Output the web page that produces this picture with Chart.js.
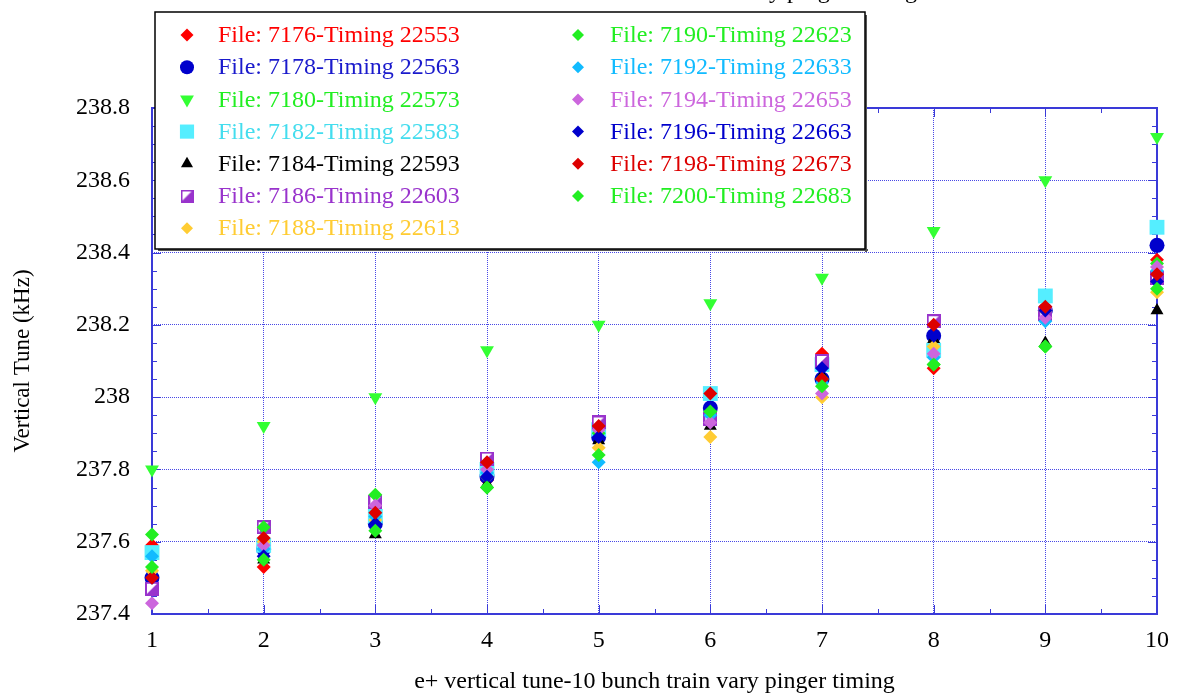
<!DOCTYPE html>
<html>
<head>
<meta charset="utf-8">
<script src="https://cdn.jsdelivr.net/npm/chart.js@4.4.0/dist/chart.umd.min.js"></script>
<style>
html, body { margin: 0; padding: 0; background: #fff; }
#wrap { width: 1181px; height: 696px; }
</style>
</head>
<body>
<div id="wrap"><canvas id="tune" width="1181" height="696"></canvas></div>
<script>
'use strict';

// pinger step index
var steps = [1, 2, 3, 4, 5, 6, 7, 8, 9, 10];

var seriesNames = [
    'File: 7176-Timing 22553', 'File: 7178-Timing 22563', 'File: 7180-Timing 22573',
    'File: 7182-Timing 22583', 'File: 7184-Timing 22593', 'File: 7186-Timing 22603',
    'File: 7188-Timing 22613', 'File: 7190-Timing 22623', 'File: 7192-Timing 22633',
    'File: 7194-Timing 22653', 'File: 7196-Timing 22663', 'File: 7198-Timing 22673',
    'File: 7200-Timing 22683'
];

// vertical tune (kHz), one list per file
var tune7176 = [237.59, 237.53, 237.69, 237.77, 237.92, 238.01, 238.12, 238.08, 238.25, 238.38];
var tune7178 = [237.50, 237.58, 237.65, 237.78, 237.89, 237.97, 238.05, 238.17, 238.24, 238.42];
var tune7180 = [237.80, 237.92, 238.00, 238.13, 238.20, 238.26, 238.33, 238.46, 238.60, 238.72];
var tune7182 = [237.57, 237.59, 237.67, 237.80, 237.91, 238.01, 238.09, 238.13, 238.28, 238.47];
var tune7184 = [237.48, 237.55, 237.62, 237.76, 237.88, 237.92, 238.06, 238.16, 238.15, 238.24];
var tune7186 = [237.47, 237.64, 237.71, 237.83, 237.93, 237.94, 238.10, 238.21, 238.23, 238.33];
var tune7188 = [237.52, 237.60, 237.66, 237.78, 237.86, 237.89, 238.00, 238.14, 238.24, 238.29];
var tune7190 = [237.62, 237.64, 237.73, 237.75, 237.90, 237.96, 238.05, 238.09, 238.14, 238.37];
var tune7192 = [237.56, 237.58, 237.67, 237.79, 237.82, 237.95, 238.04, 238.11, 238.21, 238.35];
var tune7194 = [237.43, 237.59, 237.70, 237.80, 237.91, 237.93, 238.01, 238.12, 238.22, 238.36];
var tune7196 = [237.50, 237.56, 237.65, 237.78, 237.89, 237.97, 238.08, 238.17, 238.24, 238.32];
var tune7198 = [237.50, 237.61, 237.68, 237.82, 237.92, 238.01, 238.05, 238.20, 238.25, 238.34];
var tune7200 = [237.53, 237.55, 237.63, 237.75, 237.84, 237.96, 238.03, 238.09, 238.14, 238.30];

var tuneSeries = [tune7176, tune7178, tune7180, tune7182, tune7184, tune7186, tune7188,
    tune7190, tune7192, tune7194, tune7196, tune7198, tune7200];

var seriesColors = ['#ff0000', '#0000cc', '#33ff33', '#55eeff', '#000000', '#9933cc', '#ffcc33',
    '#22ee22', '#11bbff', '#cc66dd', '#0000cc', '#dd0000', '#22ee22'];
var textColors = ['#ff0000', '#1a1acc', '#22ee22', '#44ddee', '#000000', '#9933cc', '#ffcc33',
    '#22ee22', '#11bbff', '#cc66dd', '#0000cc', '#dd0000', '#22ee22'];

// half filled square marker
function halfSquare(size) {
    var c = document.createElement('canvas');
    c.width = size; c.height = size;
    var g = c.getContext('2d');
    g.fillStyle = '#ffffff';
    g.fillRect(1, 1, size - 2, size - 2);
    g.fillStyle = '#9933cc';
    g.beginPath();
    g.moveTo(size - 1, 1); g.lineTo(size - 1, size - 1); g.lineTo(1, size - 1);
    g.closePath(); g.fill();
    g.strokeStyle = '#9933cc';
    g.lineWidth = 2;
    g.strokeRect(1, 1, size - 2, size - 2);
    return c;
}

var markers = [
    { style: 'rectRot', r: 7, rot: 0 },
    { style: 'circle', r: 7.5, rot: 0 },
    { style: 'triangle', r: 8, rot: 180 },
    { style: 'rect', r: 10.5, rot: 0 },
    { style: 'triangle', r: 7.5, rot: 0 },
    { style: halfSquare(14), r: 7, rot: 0 },
    { style: 'rectRot', r: 7, rot: 0 },
    { style: 'rectRot', r: 7, rot: 0 },
    { style: 'rectRot', r: 7, rot: 0 },
    { style: 'rectRot', r: 7, rot: 0 },
    { style: 'rectRot', r: 7, rot: 0 },
    { style: 'rectRot', r: 7, rot: 0 },
    { style: 'rectRot', r: 7, rot: 0 }
];
var legendMarkers = [
    { style: 'rectRot', r: 6.5 }, { style: 'circle', r: 7 }, { style: 'triangle', r: 8, rot: 180 },
    { style: 'rect', r: 10 }, { style: 'triangle', r: 7 }, { style: halfSquare(13), r: 6.5 },
    { style: 'rectRot', r: 6 }, { style: 'rectRot', r: 6 }, { style: 'rectRot', r: 6 },
    { style: 'rectRot', r: 6 }, { style: 'rectRot', r: 6 }, { style: 'rectRot', r: 6 },
    { style: 'rectRot', r: 6 }
];

var datasets = tuneSeries.map(function(vals, i) {
    return {
        label: seriesNames[i],
        data: vals.map(function(v, k) { return { x: steps[k], y: v }; }),
        backgroundColor: seriesColors[i],
        borderColor: seriesColors[i],
        borderWidth: 0,
        pointStyle: markers[i].style,
        pointRadius: markers[i].r,
        pointRotation: markers[i].rot,
        showLine: false,
        clip: false,
        order: tuneSeries.length - i
    };
});

var BLUE = '#3a3ad8';
var GRID = '#4848e6';
var SERIF = '"Liberation Serif", "Times New Roman", serif';

var framePlugin = {
    id: 'frame',
    beforeDatasetsDraw: function(chart) {
        var ctx = chart.ctx, a = chart.chartArea;
        var xs = chart.scales.x, ys = chart.scales.y;
        ctx.save();
        ctx.strokeStyle = BLUE;
        ctx.lineWidth = 1;
        ctx.beginPath();
        for (var k = 0; k <= 18; k++) {
            var px = Math.round(xs.getPixelForValue(1 + k * 0.5)) + 0.5;
            var lx = k % 2 === 0 ? 9 : 5;
            ctx.moveTo(px, a.bottom); ctx.lineTo(px, a.bottom - lx);
            ctx.moveTo(px, a.top); ctx.lineTo(px, a.top + lx);
        }
        for (var j = 0; j <= 28; j++) {
            var py = Math.round(ys.getPixelForValue(237.4 + j * 0.05)) + 0.5;
            var ly = j % 4 === 0 ? 9 : 5;
            ctx.moveTo(a.left, py); ctx.lineTo(a.left + ly, py);
            ctx.moveTo(a.right, py); ctx.lineTo(a.right - ly, py);
        }
        ctx.stroke();
        ctx.lineWidth = 2;
        ctx.strokeRect(a.left, a.top, a.right - a.left, a.bottom - a.top);
        ctx.restore();
    },
    afterDraw: function(chart) {
        var ctx = chart.ctx;
        ctx.save();
        // clipped title at the very top
        ctx.font = '24px ' + SERIF;
        ctx.fillStyle = '#000';
        ctx.textAlign = 'right';
        ctx.textBaseline = 'alphabetic';
        ctx.fillText('e+ vertical tune-10 bunch train vary pinger timing', 917, -2);

        // legend box
        var bx = 155, by = 12, bw = 710, bh = 237;
        ctx.fillStyle = '#ffffff';
        ctx.fillRect(bx, by, bw, bh);
        ctx.fillStyle = '#555';
        ctx.fillRect(bx + 3, by + bh, bw, 2);
        ctx.fillRect(bx + bw, by + 3, 2, bh);
        ctx.strokeStyle = '#000';
        ctx.lineWidth = 1.5;
        ctx.strokeRect(bx, by, bw, bh);

        ctx.font = '24px ' + SERIF;
        ctx.textAlign = 'left';
        ctx.textBaseline = 'middle';
        for (var i = 0; i < seriesNames.length; i++) {
            var col = i < 7 ? 0 : 1;
            var row = i < 7 ? i : i - 7;
            var mx = col === 0 ? 187 : 578;
            var tx = col === 0 ? 218 : 610;
            var cy = 35 + row * 32.2;
            var m = legendMarkers[i];
            ctx.fillStyle = seriesColors[i];
            ctx.strokeStyle = seriesColors[i];
            Chart.helpers.drawPoint(ctx, {
                pointStyle: m.style, radius: m.r, rotation: m.rot || 0, borderWidth: 0
            }, mx, cy);
            ctx.fillStyle = textColors[i];
            ctx.fillText(seriesNames[i], tx, cy + 1);
        }
        ctx.restore();
    }
};

new Chart(document.getElementById('tune').getContext('2d'), {
    type: 'scatter',
    data: { datasets: datasets },
    options: {
        responsive: false,
        animation: false,
        layout: { padding: { top: 108, right: 19, left: 0, bottom: 0 } },
        plugins: {
            legend: { display: false },
            tooltip: { enabled: false }
        },
        scales: {
            x: {
                type: 'linear',
                min: 1, max: 10,
                ticks: {
                    stepSize: 1,
                    color: '#000',
                    padding: 12,
                    font: { family: SERIF, size: 24 }
                },
                grid: { color: GRID, lineWidth: 1, drawTicks: false },
                border: { display: false, dash: [1, 1] },
                title: {
                    display: true,
                    text: 'e+ vertical tune-10 bunch train vary pinger timing',
                    color: '#000',
                    font: { family: SERIF, size: 24 },
                    padding: { top: 10, bottom: 0 }
                },
                afterFit: function(s) { s.height = 82; }
            },
            y: {
                type: 'linear',
                min: 237.4, max: 238.8,
                ticks: {
                    stepSize: 0.2,
                    color: '#000',
                    padding: 22,
                    font: { family: SERIF, size: 24 },
                    callback: function(v) { return String(Number(v.toFixed(1))); }
                },
                grid: { color: GRID, lineWidth: 1, drawTicks: false },
                border: { display: false, dash: [1, 1] },
                title: {
                    display: true,
                    text: 'Vertical Tune (kHz)',
                    color: '#000',
                    font: { family: SERIF, size: 23 },
                    padding: { top: 9, bottom: 0 }
                },
                afterFit: function(s) { s.width = 152; }
            }
        }
    },
    plugins: [framePlugin]
});
</script>
</body>
</html>
